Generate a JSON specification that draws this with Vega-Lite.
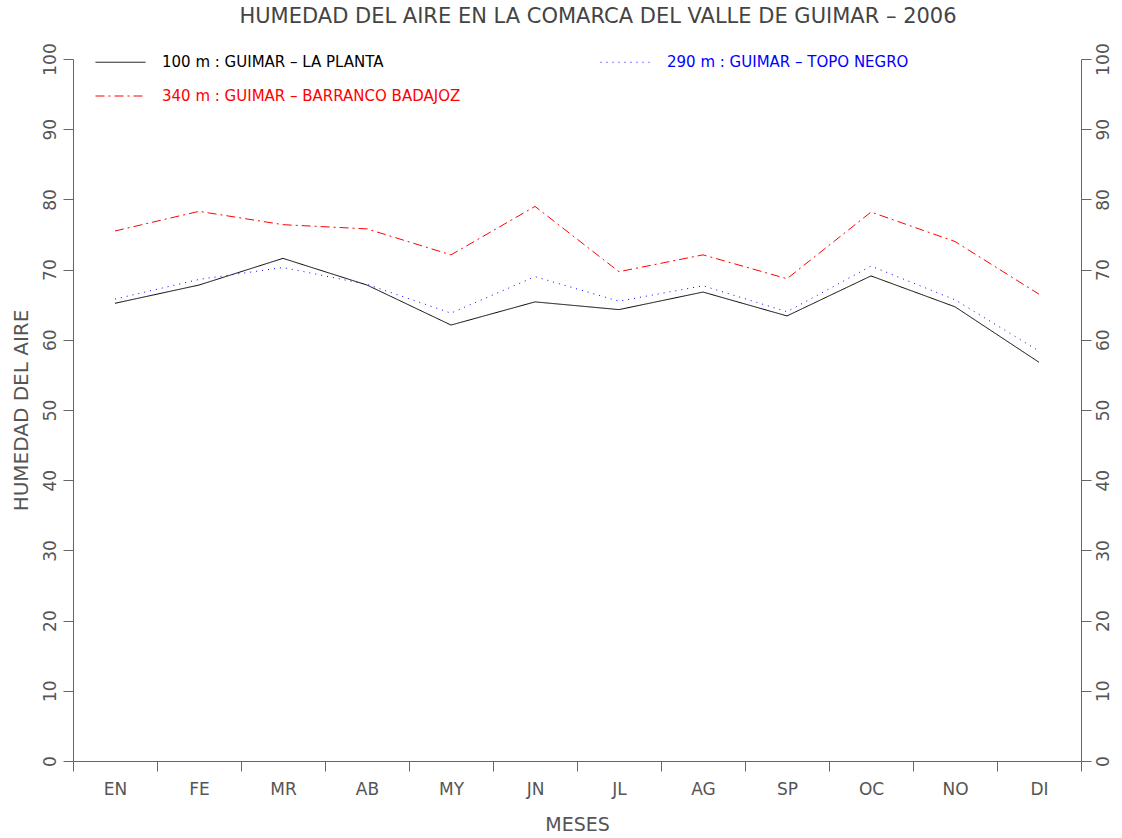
{
  "$schema": "https://vega.github.io/schema/vega-lite/v6.json",
  "autosize": {"type": "none"},
  "width": 1008,
  "height": 702,
  "padding": {"left": 73, "top": 59, "right": 41, "bottom": 77},
  "background": "white",
  "config": {
    "font": "DejaVu Sans",
    "view": {"stroke": null},
    "axis": {"grid": false, "domainColor": "#666666", "tickColor": "#666666", "labelColor": "#555555", "titleColor": "#555555", "labelFont": "DejaVu Sans", "titleFont": "DejaVu Sans", "labelFontWeight": "normal", "titleFontWeight": "normal"}
  },
  "title": {"text": "HUMEDAD DEL AIRE EN LA COMARCA DEL VALLE DE GUIMAR – 2006", "fontSize": 21, "fontWeight": "normal", "color": "#444444", "anchor": "middle", "dx": 21, "offset": 10, "font": "DejaVu Sans"},
  "data": {"values": [
    {"mes": "EN", "serie": "100 m : GUIMAR – LA PLANTA", "hum": 65.2},
    {"mes": "FE", "serie": "100 m : GUIMAR – LA PLANTA", "hum": 67.8},
    {"mes": "MR", "serie": "100 m : GUIMAR – LA PLANTA", "hum": 71.6},
    {"mes": "AB", "serie": "100 m : GUIMAR – LA PLANTA", "hum": 67.8},
    {"mes": "MY", "serie": "100 m : GUIMAR – LA PLANTA", "hum": 62.1},
    {"mes": "JN", "serie": "100 m : GUIMAR – LA PLANTA", "hum": 65.4},
    {"mes": "JL", "serie": "100 m : GUIMAR – LA PLANTA", "hum": 64.3},
    {"mes": "AG", "serie": "100 m : GUIMAR – LA PLANTA", "hum": 66.8},
    {"mes": "SP", "serie": "100 m : GUIMAR – LA PLANTA", "hum": 63.4},
    {"mes": "OC", "serie": "100 m : GUIMAR – LA PLANTA", "hum": 69.1},
    {"mes": "NO", "serie": "100 m : GUIMAR – LA PLANTA", "hum": 64.7},
    {"mes": "DI", "serie": "100 m : GUIMAR – LA PLANTA", "hum": 56.8},
    {"mes": "EN", "serie": "290 m : GUIMAR – TOPO NEGRO", "hum": 65.8},
    {"mes": "FE", "serie": "290 m : GUIMAR – TOPO NEGRO", "hum": 68.6},
    {"mes": "MR", "serie": "290 m : GUIMAR – TOPO NEGRO", "hum": 70.3},
    {"mes": "AB", "serie": "290 m : GUIMAR – TOPO NEGRO", "hum": 67.9},
    {"mes": "MY", "serie": "290 m : GUIMAR – TOPO NEGRO", "hum": 63.8},
    {"mes": "JN", "serie": "290 m : GUIMAR – TOPO NEGRO", "hum": 69.0},
    {"mes": "JL", "serie": "290 m : GUIMAR – TOPO NEGRO", "hum": 65.5},
    {"mes": "AG", "serie": "290 m : GUIMAR – TOPO NEGRO", "hum": 67.7},
    {"mes": "SP", "serie": "290 m : GUIMAR – TOPO NEGRO", "hum": 64.0},
    {"mes": "OC", "serie": "290 m : GUIMAR – TOPO NEGRO", "hum": 70.5},
    {"mes": "NO", "serie": "290 m : GUIMAR – TOPO NEGRO", "hum": 65.7},
    {"mes": "DI", "serie": "290 m : GUIMAR – TOPO NEGRO", "hum": 58.4},
    {"mes": "EN", "serie": "340 m : GUIMAR – BARRANCO BADAJOZ", "hum": 75.5},
    {"mes": "FE", "serie": "340 m : GUIMAR – BARRANCO BADAJOZ", "hum": 78.3},
    {"mes": "MR", "serie": "340 m : GUIMAR – BARRANCO BADAJOZ", "hum": 76.4},
    {"mes": "AB", "serie": "340 m : GUIMAR – BARRANCO BADAJOZ", "hum": 75.8},
    {"mes": "MY", "serie": "340 m : GUIMAR – BARRANCO BADAJOZ", "hum": 72.1},
    {"mes": "JN", "serie": "340 m : GUIMAR – BARRANCO BADAJOZ", "hum": 79.0},
    {"mes": "JL", "serie": "340 m : GUIMAR – BARRANCO BADAJOZ", "hum": 69.7},
    {"mes": "AG", "serie": "340 m : GUIMAR – BARRANCO BADAJOZ", "hum": 72.1},
    {"mes": "SP", "serie": "340 m : GUIMAR – BARRANCO BADAJOZ", "hum": 68.7},
    {"mes": "OC", "serie": "340 m : GUIMAR – BARRANCO BADAJOZ", "hum": 78.2},
    {"mes": "NO", "serie": "340 m : GUIMAR – BARRANCO BADAJOZ", "hum": 74.0},
    {"mes": "DI", "serie": "340 m : GUIMAR – BARRANCO BADAJOZ", "hum": 66.5}
  ]},
  "encoding": {
    "x": {"field": "mes", "type": "ordinal", "sort": null,
      "scale": {"type": "band", "paddingInner": 0, "paddingOuter": 0},
      "axis": {"orient": "bottom", "tickBand": "extent", "tickSize": 10, "labelAngle": 0, "labelFontSize": 17, "labelPadding": 10, "title": "MESES", "titleFontSize": 19, "titlePadding": 18}}
  },
  "layer": [
    {
      "mark": {"type": "line", "strokeWidth": 1, "clip": false},
      "encoding": {
        "y": {"field": "hum", "type": "quantitative", "scale": {"domain": [0, 100], "nice": false, "zero": true},
          "axis": {"orient": "left", "values": [0,10,20,30,40,50,60,70,80,90,100], "tickSize": 10, "labelAngle": -90, "labelAlign": "center", "labelBaseline": "bottom", "labelFontSize": 17, "labelPadding": 4, "title": "HUMEDAD DEL AIRE", "titleFontSize": 20, "titlePadding": 10}},
        "color": {"field": "serie", "type": "nominal",
          "scale": {"domain": ["100 m : GUIMAR – LA PLANTA", "290 m : GUIMAR – TOPO NEGRO", "340 m : GUIMAR – BARRANCO BADAJOZ"], "range": ["#000000", "#0000ff", "#ff0000"]},
          "legend": {"orient": "none", "legendX": 22, "legendY": -22.5, "direction": "horizontal", "columns": 2, "columnPadding": 137, "rowPadding": -22, "title": null, "symbolType": "stroke", "symbolSize": 2500, "symbolStrokeWidth": 1, "labelOffset": 16, "labelFontSize": 15, "labelFont": "DejaVu Sans", "labelLimit": 0,
            "encode": {"labels": {"update": {"fill": {"signal": "scale('color', datum.value)"}}}, "symbols": {"update": {"stroke": {"signal": "scale('color', datum.value)"}, "strokeDash": {"signal": "scale('strokeDash', datum.value)"}}}}}},
        "strokeDash": {"field": "serie", "type": "nominal",
          "scale": {"domain": ["100 m : GUIMAR – LA PLANTA", "290 m : GUIMAR – TOPO NEGRO", "340 m : GUIMAR – BARRANCO BADAJOZ"], "range": [[1, 0], [1, 5], [9, 4, 2, 4]]},
          "legend": null}
      }
    },
    {
      "mark": {"type": "line", "opacity": 0},
      "encoding": {
        "y": {"field": "hum", "type": "quantitative", "scale": {"domain": [0, 100], "nice": false, "zero": true},
          "axis": {"orient": "right", "values": [0,10,20,30,40,50,60,70,80,90,100], "tickSize": 10, "labelAngle": -90, "labelAlign": "center", "labelBaseline": "top", "labelFontSize": 17, "labelPadding": 4, "title": null}},
        "detail": {"field": "serie", "type": "nominal"}
      }
    }
  ],
  "resolve": {"scale": {"y": "independent"}, "axis": {"y": "independent"}}
}
